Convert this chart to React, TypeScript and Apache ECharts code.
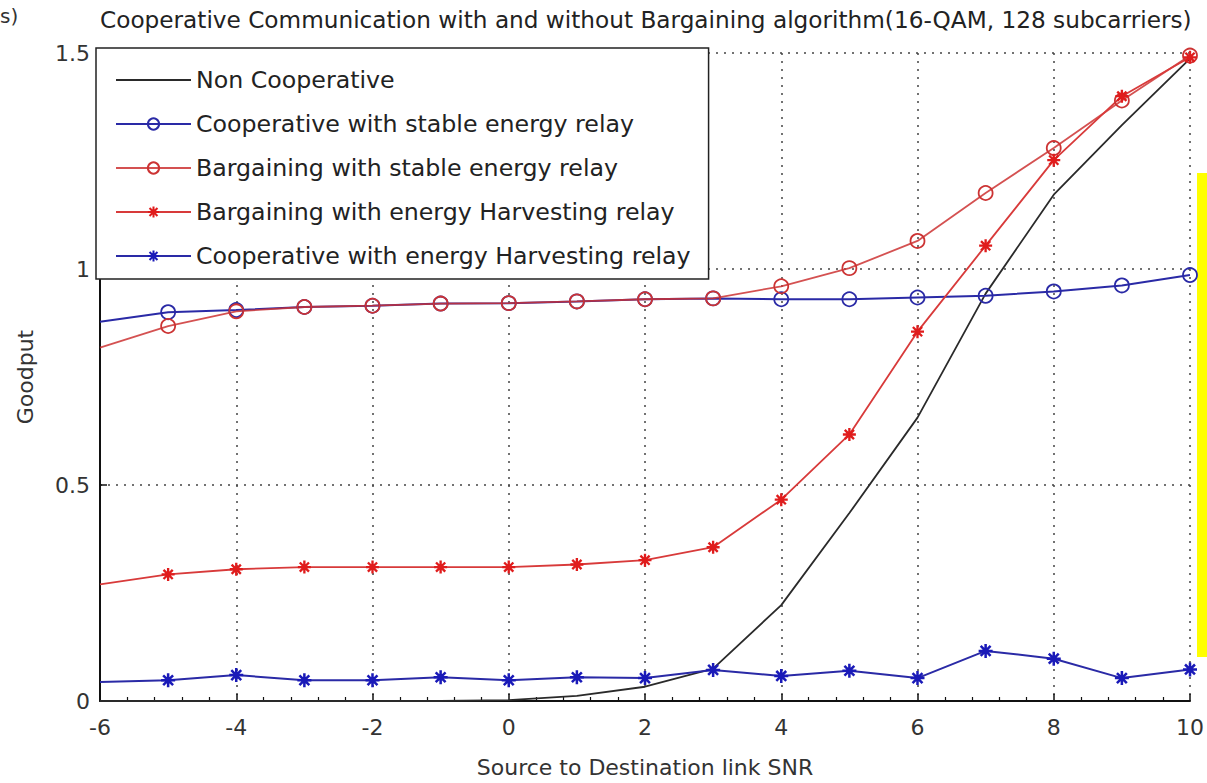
import React, { useEffect, useRef } from 'react';
import * as echarts from 'echarts';

const snr = [-6, -5, -4, -3, -2, -1, 0, 1, 2, 3, 4, 5, 6, 7, 8, 9, 10];
const nonCooperative = [0, 0, 0, 0, 0, 0, 0.002, 0.012, 0.033, 0.075, 0.222, 0.435, 0.656, 0.943, 1.172, 1.333, 1.487];
const coopStable = [0.878, 0.9, 0.905, 0.912, 0.915, 0.92, 0.921, 0.925, 0.93, 0.932, 0.93, 0.93, 0.934, 0.938, 0.948, 0.962, 0.986];
const bargStable = [0.818, 0.868, 0.902, 0.912, 0.915, 0.92, 0.921, 0.925, 0.93, 0.932, 0.96, 1.002, 1.065, 1.176, 1.28, 1.39, 1.494];
const bargHarvest = [0.27, 0.293, 0.305, 0.31, 0.31, 0.31, 0.31, 0.316, 0.326, 0.356, 0.466, 0.617, 0.855, 1.054, 1.252, 1.4, 1.49];
const coopHarvest = [0.044, 0.048, 0.06, 0.048, 0.048, 0.055, 0.048, 0.055, 0.053, 0.072, 0.058, 0.07, 0.053, 0.116, 0.098, 0.053, 0.073];

const seriesNames = [
  'Non Cooperative',
  'Cooperative with stable energy relay',
  'Bargaining with stable energy relay',
  'Bargaining with energy Harvesting relay',
  'Cooperative with energy Harvesting relay',
];
const titleText = 'Cooperative Communication with and without Bargaining algorithm(16-QAM, 128 subcarriers)';
const xName = 'Source to Destination link SNR';
const yName = 'Goodput';

const FONT = 'DejaVu Sans';
const STAR =
  'path://M-5,-0.9L5,-0.9L5,0.9L-5,0.9Z M-0.9,-5L0.9,-5L0.9,5L-0.9,5Z M-2.9,-4.18L4.18,2.9L2.9,4.18L-4.18,-2.9Z M-4.18,2.9L2.9,-4.18L4.18,-2.9L-2.9,4.18Z';
const LINE_ICON = 'path://M0,0L75,0L75,1.8L0,1.8Z';

function toData(vals: number[]) {
  return vals.map((v, i) =>
    i === 0 ? { value: [snr[i], v], symbol: 'none' } : { value: [snr[i], v] }
  );
}

export default function App() {
  const ref = useRef<HTMLDivElement>(null);
  useEffect(() => {
    document.body.style.margin = '0';
    const chart = echarts.init(ref.current!, null, { renderer: 'svg' });
    const blue = '#2a2aa6';
    const red = '#d83a3a';
    chart.setOption({
      animation: false,
      backgroundColor: '#fff',
      textStyle: { fontFamily: FONT },
      title: {
        text: titleText,
        left: 95,
        top: 3,
        textStyle: { fontFamily: FONT, fontSize: 23.2, fontWeight: 'normal', color: '#222' },
      },
      legend: {
        left: 96,
        top: 48,
        orient: 'vertical',
        backgroundColor: '#fff',
        borderColor: '#222',
        borderWidth: 1.5,
        padding: [20, 18, 11, 19],
        itemWidth: 75,
        itemHeight: 14,
        itemGap: 20,
        itemTextGap: 12,
        selectedMode: false,
        textStyle: { fontFamily: FONT, fontSize: 23.7, color: '#222', lineHeight: 24 },
        data: [
          { name: seriesNames[0], icon: LINE_ICON, itemStyle: { color: '#2a2a2a' } },
          seriesNames[1],
          seriesNames[2],
          seriesNames[3],
          seriesNames[4],
        ],
      },
      grid: { left: 100, right: 17, top: 53, bottom: 80 },
      xAxis: {
        type: 'value',
        min: -6,
        max: 10,
        interval: 2,
        name: xName,
        nameLocation: 'middle',
        nameGap: 55,
        nameTextStyle: { fontFamily: FONT, fontSize: 22, color: '#333' },
        axisLine: { onZero: false, lineStyle: { color: '#111', width: 2 } },
        axisTick: { inside: true, length: 7, lineStyle: { color: '#111', width: 1.5 } },
        minorTick: { show: true, splitNumber: 5, length: 4, lineStyle: { color: '#111', width: 1.2 } },
        axisLabel: { fontFamily: FONT, fontSize: 22, color: '#333', margin: 15 },
        splitLine: { show: true, lineStyle: { type: [2, 6], color: '#444', width: 1.5 } },
      },
      yAxis: {
        type: 'value',
        min: 0,
        max: 1.5,
        interval: 0.5,
        name: yName,
        nameLocation: 'middle',
        nameGap: 64,
        nameTextStyle: { fontFamily: FONT, fontSize: 22, color: '#333' },
        axisLine: { show: true, onZero: false, lineStyle: { color: '#111', width: 2 } },
        axisTick: { show: true, inside: true, length: 7, lineStyle: { color: '#111', width: 1.5 } },
        axisLabel: { fontFamily: FONT, fontSize: 22, color: '#333', margin: 10 },
        splitLine: { show: true, lineStyle: { type: [2, 6], color: '#444', width: 1.5 } },
      },
      series: [
        {
          name: seriesNames[0],
          type: 'line',
          data: toData(nonCooperative),
          symbol: 'none',
          color: '#2a2a2a',
          lineStyle: { color: '#2a2a2a', width: 1.8 },
        },
        {
          name: seriesNames[1],
          type: 'line',
          data: toData(coopStable),
          symbol: 'circle',
          symbolSize: 14,
          color: blue,
          lineStyle: { color: blue, width: 2 },
          itemStyle: { color: 'rgba(255,255,255,0)', borderColor: blue, borderWidth: 1.8 },
        },
        {
          name: seriesNames[2],
          type: 'line',
          data: toData(bargStable),
          symbol: 'circle',
          symbolSize: 14,
          color: '#cc3333',
          lineStyle: { color: '#cc3333', width: 1.8, opacity: 0.85 },
          itemStyle: { color: 'rgba(255,255,255,0)', borderColor: '#cc3333', borderWidth: 1.8 },
        },
        {
          name: seriesNames[3],
          type: 'line',
          data: toData(bargHarvest),
          symbol: STAR,
          symbolSize: 13,
          color: '#e01c1c',
          lineStyle: { color: red, width: 1.8 },
          itemStyle: { color: '#e01c1c' },
        },
        {
          name: seriesNames[4],
          type: 'line',
          data: toData(coopHarvest),
          symbol: STAR,
          symbolSize: 14,
          color: '#1a1ab8',
          lineStyle: { color: blue, width: 2 },
          itemStyle: { color: '#1a1ab8' },
        },
      ],
      graphic: [
        {
          type: 'text',
          left: 0,
          top: 6,
          style: { text: 's)', font: `20px "${FONT}"`, fill: '#333' },
        },
        {
          type: 'rect',
          shape: { x: 1197, y: 173, width: 10, height: 484 },
          style: { fill: '#ffff00' },
        },
      ],
    });
    return () => chart.dispose();
  }, []);
  return <div ref={ref} style={{ position: 'absolute', left: 0, top: 0, width: 1207, height: 783 }} />;
}
